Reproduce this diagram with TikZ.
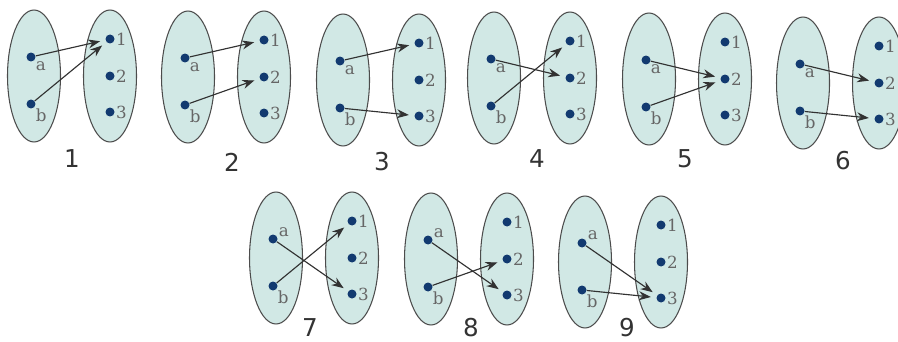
\documentclass[tikz,border=0pt]{standalone}
\usepackage{fontspec}
\usetikzlibrary{arrows.meta,shapes.geometric}
\newfontfamily\numfont{DejaVu Sans}
\newfontfamily\eltfont{DejaVu Serif}
\definecolor{setfill}{RGB}{209,232,229}
\definecolor{dotblue}{RGB}{18,58,112}
\definecolor{mapgray}{RGB}{50,50,50}

\begin{document}
\begin{tikzpicture}[x=0.02cm, y=-0.02cm,
    set/.style={ellipse, draw=black!70, fill=setfill, line width=0.6pt,
                minimum width=1.06cm, minimum height=2.64cm, inner sep=0pt},
    elt/.style={circle, fill=dotblue, inner sep=0pt, minimum size=0.18cm},
    elbl/.style={font=\eltfont\fontsize{9.5}{10}\selectfont, text=black!60, inner sep=0.5pt},
    num/.style={font=\numfont\fontsize{14}{16}\selectfont, text=black!80, inner sep=0pt},
    map/.style={-{Stealth[length=0.24cm,width=0.18cm]}, line width=0.65pt,
                draw=mapgray, shorten >=3pt}]

    \clip (0,0) rectangle (898,341);

    % one picture per map {a,b} -> {1,2,3}
    \foreach \n/\cx/\cy/\nx/\ny/\la/\maps in {
        1/34/76/72/159/-40/{a/1,b/1},
        2/188/77/232/162/-40/{a/1,b/2},
        3/343/80/382/162/-40/{a/1,b/3},
        4/494/78/537/159/-40/{a/2,b/1},
        5/649/79/685/159/-40/{a/2,b/2},
        6/803/83/843/161/-40/{a/2,b/3},
        7/276/258/310/328/15/{a/3,b/1},
        8/431/259/471/328/15/{a/3,b/2},
        9/585/262/627/328/20/{a/3,b/3}} {
      \node[set] (L\n) at (\cx,\cy) {};
      \node[set] (R\n) at (\cx+76,\cy) {};
      \node[elt, label={[elbl]\la:a}] (s\n-a) at (\cx-3,\cy-19) {};
      \node[elt, label={[elbl]-40:b}] (s\n-b) at (\cx-3,\cy+28) {};
      \node[elt, label={[elbl]0:1}] (s\n-1) at (\cx+76,\cy-37) {};
      \node[elt, label={[elbl]0:2}] (s\n-2) at (\cx+76,\cy) {};
      \node[elt, label={[elbl]0:3}] (s\n-3) at (\cx+76,\cy+36) {};
      \node[num] (n\n) at (\nx,\ny) {\n};
      \foreach \s/\t in \maps
        \draw[map] (s\n-\s) -- (s\n-\t);
    }
  \end{tikzpicture}
\end{document}
